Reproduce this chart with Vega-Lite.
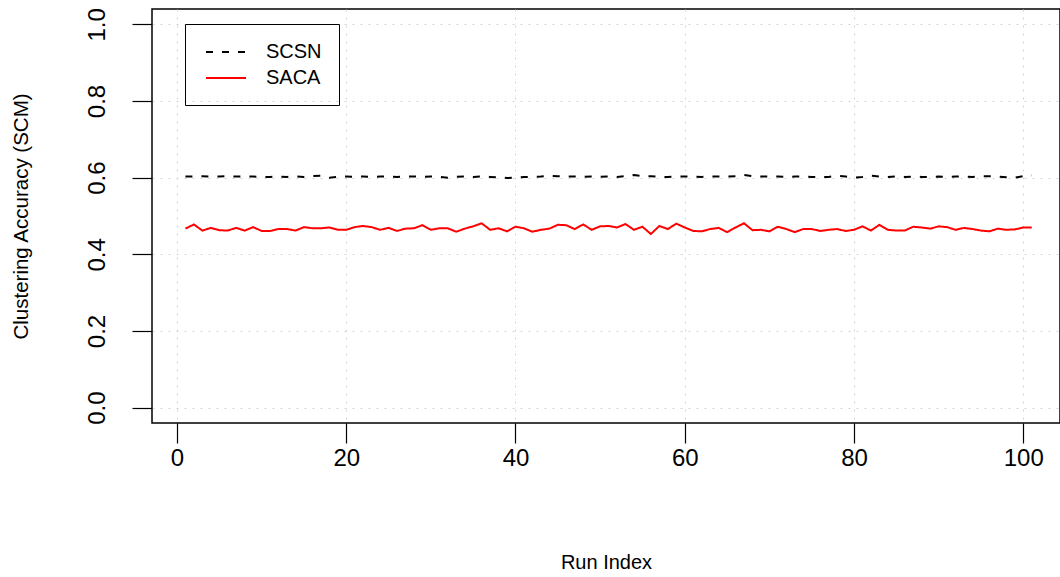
{
  "$schema": "https://vega.github.io/schema/vega-lite/v6.json",
  "autosize": {"type": "none"},
  "width": 908,
  "height": 414,
  "padding": {"left": 152, "top": 9, "right": 0, "bottom": 154},
  "background": "white",
  "config": {
    "font": "Liberation Sans",
    "view": {"stroke": "black", "strokeWidth": 1.5}
  },
  "data": {"values": [
    {"run":1,"SCSN":0.603,"SACA":0.467},{"run":2,"SCSN":0.603,"SACA":0.478},{"run":3,"SCSN":0.604,"SACA":0.462},{"run":4,"SCSN":0.603,"SACA":0.469},{"run":5,"SCSN":0.603,"SACA":0.463},
    {"run":6,"SCSN":0.604,"SACA":0.462},{"run":7,"SCSN":0.603,"SACA":0.469},{"run":8,"SCSN":0.603,"SACA":0.462},{"run":9,"SCSN":0.603,"SACA":0.471},{"run":10,"SCSN":0.602,"SACA":0.461},
    {"run":11,"SCSN":0.602,"SACA":0.461},{"run":12,"SCSN":0.603,"SACA":0.466},{"run":13,"SCSN":0.602,"SACA":0.466},{"run":14,"SCSN":0.603,"SACA":0.462},{"run":15,"SCSN":0.602,"SACA":0.471},
    {"run":16,"SCSN":0.604,"SACA":0.468},{"run":17,"SCSN":0.605,"SACA":0.468},{"run":18,"SCSN":0.600,"SACA":0.470},{"run":19,"SCSN":0.602,"SACA":0.464},{"run":20,"SCSN":0.603,"SACA":0.464},
    {"run":21,"SCSN":0.602,"SACA":0.471},{"run":22,"SCSN":0.603,"SACA":0.474},{"run":23,"SCSN":0.602,"SACA":0.471},{"run":24,"SCSN":0.603,"SACA":0.464},{"run":25,"SCSN":0.603,"SACA":0.469},
    {"run":26,"SCSN":0.602,"SACA":0.461},{"run":27,"SCSN":0.603,"SACA":0.467},{"run":28,"SCSN":0.603,"SACA":0.468},{"run":29,"SCSN":0.602,"SACA":0.476},{"run":30,"SCSN":0.603,"SACA":0.464},
    {"run":31,"SCSN":0.602,"SACA":0.468},{"run":32,"SCSN":0.600,"SACA":0.468},{"run":33,"SCSN":0.602,"SACA":0.459},{"run":34,"SCSN":0.603,"SACA":0.467},{"run":35,"SCSN":0.602,"SACA":0.473},
    {"run":36,"SCSN":0.603,"SACA":0.481},{"run":37,"SCSN":0.602,"SACA":0.464},{"run":38,"SCSN":0.601,"SACA":0.468},{"run":39,"SCSN":0.599,"SACA":0.460},{"run":40,"SCSN":0.600,"SACA":0.472},
    {"run":41,"SCSN":0.602,"SACA":0.468},{"run":42,"SCSN":0.602,"SACA":0.459},{"run":43,"SCSN":0.603,"SACA":0.464},{"run":44,"SCSN":0.605,"SACA":0.467},{"run":45,"SCSN":0.604,"SACA":0.477},
    {"run":46,"SCSN":0.603,"SACA":0.476},{"run":47,"SCSN":0.603,"SACA":0.466},{"run":48,"SCSN":0.602,"SACA":0.478},{"run":49,"SCSN":0.603,"SACA":0.464},{"run":50,"SCSN":0.602,"SACA":0.473},
    {"run":51,"SCSN":0.603,"SACA":0.474},{"run":52,"SCSN":0.602,"SACA":0.470},{"run":53,"SCSN":0.604,"SACA":0.479},{"run":54,"SCSN":0.607,"SACA":0.464},{"run":55,"SCSN":0.604,"SACA":0.472},
    {"run":56,"SCSN":0.604,"SACA":0.453},{"run":57,"SCSN":0.602,"SACA":0.474},{"run":58,"SCSN":0.602,"SACA":0.466},{"run":59,"SCSN":0.603,"SACA":0.480},{"run":60,"SCSN":0.603,"SACA":0.470},
    {"run":61,"SCSN":0.603,"SACA":0.461},{"run":62,"SCSN":0.602,"SACA":0.460},{"run":63,"SCSN":0.603,"SACA":0.466},{"run":64,"SCSN":0.603,"SACA":0.469},{"run":65,"SCSN":0.603,"SACA":0.458},
    {"run":66,"SCSN":0.604,"SACA":0.470},{"run":67,"SCSN":0.607,"SACA":0.481},{"run":68,"SCSN":0.604,"SACA":0.463},{"run":69,"SCSN":0.603,"SACA":0.464},{"run":70,"SCSN":0.603,"SACA":0.460},
    {"run":71,"SCSN":0.603,"SACA":0.472},{"run":72,"SCSN":0.602,"SACA":0.466},{"run":73,"SCSN":0.603,"SACA":0.458},{"run":74,"SCSN":0.603,"SACA":0.466},{"run":75,"SCSN":0.602,"SACA":0.466},
    {"run":76,"SCSN":0.601,"SACA":0.461},{"run":77,"SCSN":0.602,"SACA":0.464},{"run":78,"SCSN":0.605,"SACA":0.466},{"run":79,"SCSN":0.603,"SACA":0.461},{"run":80,"SCSN":0.600,"SACA":0.464},
    {"run":81,"SCSN":0.602,"SACA":0.473},{"run":82,"SCSN":0.605,"SACA":0.462},{"run":83,"SCSN":0.603,"SACA":0.477},{"run":84,"SCSN":0.602,"SACA":0.464},{"run":85,"SCSN":0.603,"SACA":0.462},
    {"run":86,"SCSN":0.602,"SACA":0.462},{"run":87,"SCSN":0.603,"SACA":0.472},{"run":88,"SCSN":0.602,"SACA":0.470},{"run":89,"SCSN":0.602,"SACA":0.467},{"run":90,"SCSN":0.603,"SACA":0.473},
    {"run":91,"SCSN":0.602,"SACA":0.471},{"run":92,"SCSN":0.603,"SACA":0.464},{"run":93,"SCSN":0.603,"SACA":0.469},{"run":94,"SCSN":0.602,"SACA":0.466},{"run":95,"SCSN":0.604,"SACA":0.462},
    {"run":96,"SCSN":0.604,"SACA":0.460},{"run":97,"SCSN":0.603,"SACA":0.467},{"run":98,"SCSN":0.601,"SACA":0.464},{"run":99,"SCSN":0.600,"SACA":0.465},{"run":100,"SCSN":0.604,"SACA":0.470},
    {"run":101,"SCSN":0.606,"SACA":0.470}
  ]},
  "transform": [{"fold": ["SCSN", "SACA"], "as": ["series", "value"]}],
  "mark": {"type": "line", "strokeWidth": 2},
  "encoding": {
    "x": {
      "field": "run", "type": "quantitative",
      "scale": {"domain": [-2.95, 104.34], "nice": false, "zero": false},
      "axis": {
        "values": [0, 20, 40, 60, 80, 100],
        "format": "d",
        "domain": false,
        "grid": true, "gridColor": "#D3D3D3", "gridDash": [2, 6], "gridWidth": 1,
        "ticks": true, "tickColor": "black", "tickSize": 20, "tickWidth": 1.2,
        "labelFontSize": 24, "labelColor": "black", "labelPadding": 3,
        "title": "Run Index", "titleFontSize": 20, "titleFontWeight": "normal", "titleColor": "black",
        "titlePadding": 82
      }
    },
    "y": {
      "field": "value", "type": "quantitative",
      "scale": {"domain": [-0.04, 1.04], "nice": false, "zero": false},
      "axis": {
        "values": [0, 0.2, 0.4, 0.6, 0.8, 1.0],
        "format": ".1f",
        "domain": false,
        "grid": true, "gridColor": "#D3D3D3", "gridDash": [2, 6], "gridWidth": 1,
        "ticks": true, "tickColor": "black", "tickSize": 20, "tickWidth": 1.2,
        "labelFontSize": 24, "labelColor": "black", "labelPadding": 28,
        "labelAngle": 270, "labelAlign": "center", "labelBaseline": "alphabetic",
        "title": "Clustering Accuracy (SCM)", "titleFontSize": 20.5, "titleFontWeight": "normal", "titleColor": "black",
        "titlePadding": 54
      }
    },
    "color": {
      "field": "series", "type": "nominal",
      "scale": {"domain": ["SCSN", "SACA"], "range": ["black", "#FF0000"]},
      "legend": {
        "title": null, "orient": "none", "legendX": 33, "legendY": 15,
        "strokeColor": "black", "padding": 17,
        "symbolType": "M-2,0H2", "symbolSize": 400, "symbolStrokeWidth": 2, "symbolOffset": 13,
        "labelFontSize": 20, "labelColor": "black", "labelOffset": 29, "rowPadding": 5
      }
    },
    "strokeDash": {
      "field": "series", "type": "nominal",
      "scale": {"domain": ["SCSN", "SACA"], "range": [[7, 9], [1, 0]]},
      "legend": {
        "title": null, "orient": "none", "legendX": 33, "legendY": 15,
        "strokeColor": "black", "padding": 17,
        "symbolType": "M-2,0H2", "symbolSize": 400, "symbolStrokeWidth": 2, "symbolOffset": 13,
        "labelFontSize": 20, "labelColor": "black", "labelOffset": 29, "rowPadding": 5
      }
    }
  }
}
